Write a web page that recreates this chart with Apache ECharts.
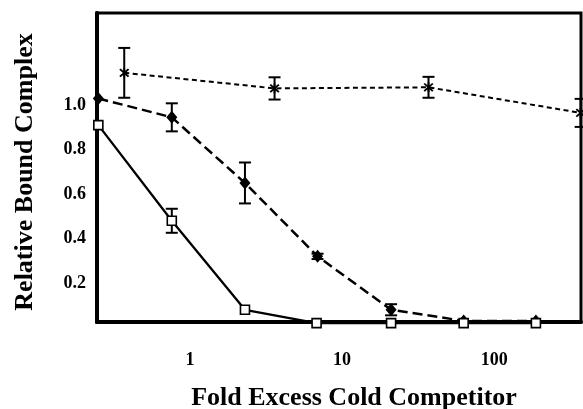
<!DOCTYPE html>
<html>
<head>
<meta charset="utf-8">
<script src="https://cdn.jsdelivr.net/npm/echarts@6/dist/echarts.min.js"></script>
<style>
html,body{margin:0;padding:0;background:#fff;}
#chart{width:583px;height:409px;}
</style>
</head>
<body>
<div id="chart"></div>
<script>
// Open squares, solid line
var foldSquares = [0.25, 0.76, 2.3, 6.8, 21, 63, 188];
var boundSquares = [0.91, 0.48, 0.08, 0.02, 0.02, 0.02, 0.02];
var errSquares = [0, 0.054, 0, 0, 0, 0, 0];
// Filled diamonds, long dashes
var foldDiamonds = [0.25, 0.76, 2.3, 6.9, 21, 63, 188];
var boundDiamonds = [1.03, 0.945, 0.65, 0.32, 0.08, 0.03, 0.03];
var errDiamonds = [0, 0.063, 0.092, 0.012, 0.025, 0, 0];
// Asterisks, short dashes
var foldStars = [0.37, 3.6, 37, 370];
var boundStars = [1.145, 1.075, 1.08, 0.965];
var errStars = [0.112, 0.05, 0.047, 0.063];

var yTickLabels = [0.2, 0.4, 0.6, 0.8, 1.0];
var xTitle = 'Fold Excess Cold Competitor';
var yTitle = 'Relative Bound Complex';

function pairs(xs, ys) { return xs.map(function (x, i) { return [x, ys[i]]; }); }
function errData(xs, ys, es) {
  var out = [];
  xs.forEach(function (x, i) { if (es[i] > 0) out.push([x, ys[i] - es[i], ys[i] + es[i]]); });
  return out;
}
var FONT = '"Liberation Serif", "Times New Roman", serif';
var starPath = 'path://M4.2,0L5.8,0L5.8,10L4.2,10Z M0.6,1.8L1.8,0.6L9.4,8.2L8.2,9.4Z M8.2,0.6L9.4,1.8L1.8,9.4L0.6,8.2Z';

function errRender(params, api) {
  var x = api.value(0);
  var lo = api.coord([x, api.value(1)]);
  var hi = api.coord([x, api.value(2)]);
  var hw = 6;
  var style = { stroke: '#000', lineWidth: 2 };
  return {
    type: 'group',
    children: [
      { type: 'line', shape: { x1: lo[0], y1: lo[1], x2: hi[0], y2: hi[1] }, style: style },
      { type: 'line', shape: { x1: lo[0] - hw, y1: lo[1], x2: lo[0] + hw, y2: lo[1] }, style: style },
      { type: 'line', shape: { x1: hi[0] - hw, y1: hi[1], x2: hi[0] + hw, y2: hi[1] }, style: style }
    ]
  };
}

var chart = echarts.init(document.getElementById('chart'), null, { renderer: 'canvas' });
chart.setOption({
  animation: false,
  backgroundColor: '#fff',
  grid: { left: 97, right: 2, top: 13, bottom: 87, show: true, borderColor: '#000', borderWidth: 3, containLabel: false },
  xAxis: {
    type: 'log', logBase: 10, min: 0.245, max: 372,
    axisLine: { show: true, lineStyle: { color: '#000', width: 4 } },
    axisTick: { show: false },
    splitLine: { show: false },
    axisLabel: { show: true, showMinLabel: false, showMaxLabel: false, margin: 29, color: '#000', fontFamily: FONT, fontWeight: 'bold', fontSize: 18 }
  },
  yAxis: {
    type: 'value', min: 0.025, max: 1.414,
    axisLine: { show: true, lineStyle: { color: '#000', width: 4 } },
    axisTick: { show: false },
    splitLine: { show: false },
    axisLabel: { customValues: yTickLabels, formatter: function (v) { return v.toFixed(1); }, margin: 11, color: '#000', fontFamily: FONT, fontWeight: 'bold', fontSize: 18 }
  },
  graphic: [
    { type: 'text', x: 354, y: 398, style: { text: xTitle, font: 'bold 26px ' + FONT, fill: '#000', align: 'center', verticalAlign: 'middle' } },
    { type: 'text', x: 25, y: 172, rotation: Math.PI / 2, style: { text: yTitle, font: 'bold 26px ' + FONT, fill: '#000', align: 'center', verticalAlign: 'middle' } }
  ],
  series: [
    { type: 'custom', renderItem: errRender, data: errData(foldSquares, boundSquares, errSquares), encode: { x: 0, y: [1, 2] }, z: 3, clip: false },
    { type: 'custom', renderItem: errRender, data: errData(foldDiamonds, boundDiamonds, errDiamonds), encode: { x: 0, y: [1, 2] }, z: 3, clip: false },
    { type: 'custom', renderItem: errRender, data: errData(foldStars, boundStars, errStars), encode: { x: 0, y: [1, 2] }, z: 3, clip: false },
    {
      type: 'line', data: pairs(foldStars, boundStars), clip: false, z: 4,
      symbol: starPath, symbolSize: 10, showAllSymbol: true,
      lineStyle: { color: '#000', width: 2, type: [5, 3.5] },
      itemStyle: { color: '#000', borderWidth: 0 }
    },
    {
      type: 'line', data: pairs(foldDiamonds, boundDiamonds), clip: false, z: 5,
      symbol: 'diamond', symbolSize: [11, 13], showAllSymbol: true,
      lineStyle: { color: '#000', width: 2.5, type: [10, 5] },
      itemStyle: { color: '#000', borderWidth: 0 }
    },
    {
      type: 'line', data: pairs(foldSquares, boundSquares), clip: false, z: 6,
      symbol: 'rect', symbolSize: 9, showAllSymbol: true,
      lineStyle: { color: '#000', width: 2.3 },
      itemStyle: { color: '#fff', borderColor: '#000', borderWidth: 1.6 }
    }
  ]
});
</script>
</body>
</html>
